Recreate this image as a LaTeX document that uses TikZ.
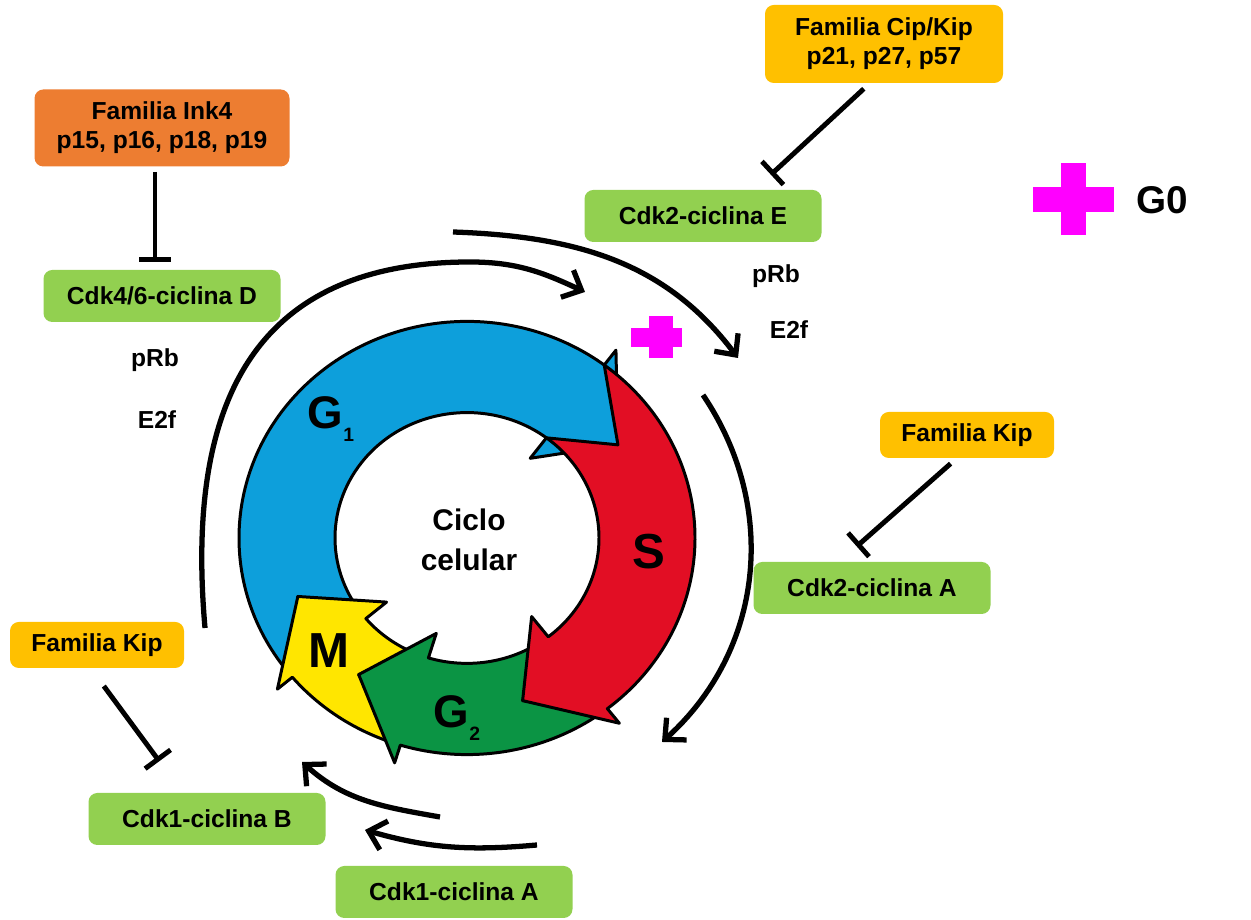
\documentclass[tikz,border=0pt]{standalone}
\usepackage{fontspec}
\setmainfont{Liberation Sans}
\usetikzlibrary{arrows.meta}

\definecolor{boxgreen}{RGB}{146,208,80}
\definecolor{inkorange}{RGB}{237,125,49}
\definecolor{kipyellow}{RGB}{255,192,0}
\definecolor{gonepink}{RGB}{255,0,255}
\definecolor{gblue}{RGB}{13,159,219}
\definecolor{sred}{RGB}{226,14,36}
\definecolor{gtwogreen}{RGB}{11,148,68}
\definecolor{myellow}{RGB}{255,230,0}

\begin{document}
\begin{tikzpicture}[
    font=\bfseries\fontsize{14}{16.5}\selectfont,
    cdkbox/.style={fill=boxgreen, rounded corners=5pt, minimum width=4.74cm, minimum height=1.04cm},
    famibox/.style={rounded corners=5pt, align=center, inner sep=2pt},
    cycarrow/.style={line width=3pt, -{Straight Barb[length=9pt,width=17pt]}},
    inhib/.style={line width=2.8pt, -{Bar[width=18pt]}}
]
\useasboundingbox (0,0) rectangle (25.02,18.4);

    % Inhibitor families
    \node[famibox, fill=inkorange, minimum width=5.1cm, minimum height=1.54cm] (ink4) at (3.24,15.84) {Familia Ink4\\p15, p16, p18, p19};
    \node[famibox, fill=kipyellow, minimum width=4.76cm, minimum height=1.56cm] (cipkip) at (17.68,17.52) {Familia Cip/Kip\\p21, p27, p57};
    \node[famibox, fill=kipyellow, minimum width=3.48cm, minimum height=0.92cm] (kipr) at (19.34,9.70) {Familia Kip};
    \node[famibox, fill=kipyellow, minimum width=3.48cm, minimum height=0.92cm] (kipl) at (1.94,5.50) {Familia Kip};

    % Cdk-ciclina complexes
    \node[cdkbox] (cdk46) at (3.24,12.48) {Cdk4/6-ciclina D};
    \node[cdkbox] (cdk2e) at (14.06,14.08) {Cdk2-ciclina E};
    \node[cdkbox] (cdk2a) at (17.44,6.64) {Cdk2-ciclina A};
    \node[cdkbox] (cdk1b) at (4.14,2.02) {Cdk1-ciclina B};
    \node[cdkbox] (cdk1a) at (9.08,0.56) {Cdk1-ciclina A};

    % pRb / E2f labels
    \node (prbl) at (3.10,11.20) {pRb};
    \node (etfl) at (3.14,10.00) {E2f};
    \node (prbr) at (15.52,12.88) {pRb};
    \node (etfr) at (15.78,11.80) {E2f};

    % Inhibition lines
    \draw[inhib, shorten <=0.1cm, shorten >=0.16cm] ([xshift=-0.14cm]ink4.south) -- ([xshift=-0.14cm]cdk46.north);
    \draw[inhib, shorten <=0.16cm, shorten >=0.44cm] (cipkip.250) -- (cdk2e.27);
    \draw[inhib, shorten <=0.16cm, shorten >=0.46cm] (kipr.246) -- (cdk2a.141);
    \draw[inhib, shorten <=0.44cm, shorten >=0.78cm] (kipl.255) -- (cdk1b.133);

    % Phases of the cycle
    \begin{scope}[shift={(9.34,7.64)}, yscale=0.95]
        \foreach \a/\b/\col in {220/53/gblue, -107/-140/myellow, -52/-107/gtwogreen, 53/-52/sred}
            \filldraw[fill=\col, draw=black, line width=1.7pt, line join=round]
                (\a:4.56) arc (\a:\b:4.56) -- (\b:4.95) -- ({\b-20}:3.6) -- (\b:2.1)
                -- (\b:2.64) arc (\b:\a:2.64) -- ({\a-20}:3.6) -- cycle;
    \end{scope}

    % Phase labels
    \node (gonelab) at (6.62,10.02) {\fontsize{26}{26}\selectfont G\raisebox{-0.3em}{\fontsize{11}{11}\selectfont 1}};
    \node (slab) at (12.98,7.36) {\fontsize{28}{28}\selectfont S};
    \node (gtwolab) at (9.14,4.04) {\fontsize{26}{26}\selectfont G\raisebox{-0.3em}{\fontsize{11}{11}\selectfont 2}};
    \node (mlab) at (6.58,5.38) {\fontsize{28}{28}\selectfont M};
    \node[align=center, font=\bfseries\fontsize{17}{23}\selectfont] (ciclo) at (9.38,7.60) {Ciclo\\celular};

    % Restriction point and G0
    \fill[gonepink] (12.62,11.46) rectangle (13.64,11.84);
    \fill[gonepink] (12.98,11.24) rectangle (13.46,12.08);
    \fill[gonepink] (20.66,14.16) rectangle (22.28,14.66);
    \fill[gonepink] (21.22,13.70) rectangle (21.72,15.14);
    \node[font=\bfseries\fontsize{22}{22}\selectfont] (gzero) at (23.24,14.40) {G0};

    % Arrows round the cycle
    \draw[cycarrow] (4.10,5.84) to[out=95, in=180, looseness=1.25] (9.40,13.16) to[out=0, in=155] (11.70,12.56);
    \draw[cycarrow] (9.06,13.76) to[out=-2, in=127] (14.76,11.24);
    \draw[cycarrow] (14.06,10.50) to[out=-56, in=42] (13.24,3.56);
    \draw[cycarrow] (8.80,2.06) to[out=170, in=-42] (6.04,3.16);
    \draw[cycarrow] (10.74,1.50) to[out=185, in=-16] (7.30,1.80);

\end{tikzpicture}
\end{document}
